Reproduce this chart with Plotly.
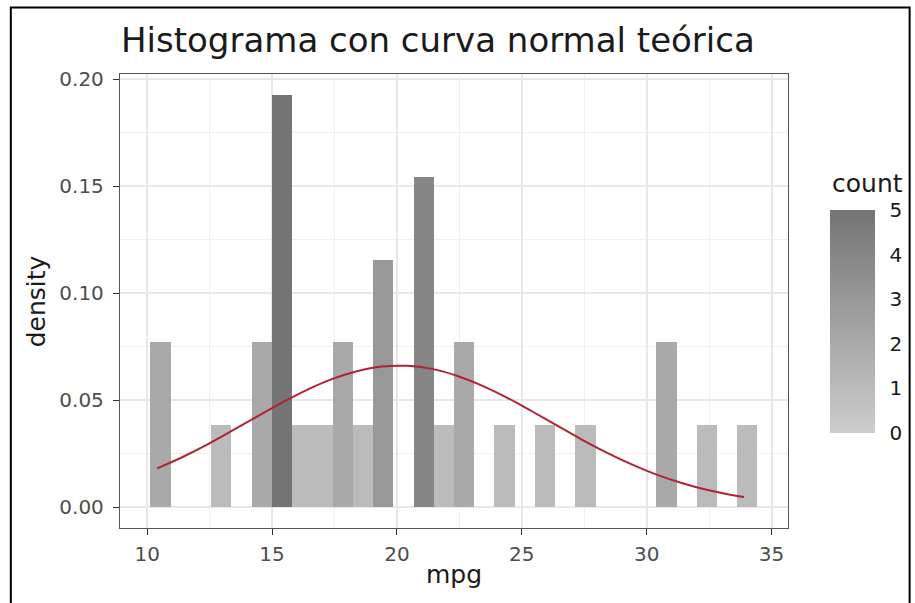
import plotly.graph_objects as go

# mpg histogram (30 bins) with the theoretical normal density on top
bin_centers = [10.53, 11.34, 12.16, 12.97, 13.78, 14.59, 15.40, 16.21, 17.02, 17.83,
               18.64, 19.45, 20.26, 21.07, 21.88, 22.69, 23.50, 24.31, 25.12, 25.93,
               26.74, 27.55, 28.36, 29.17, 29.98, 30.79, 31.60, 32.41, 33.23, 34.03]
bin_width = 0.8103
counts = [2, 0, 0, 1, 0, 2, 5, 1, 1, 2, 1, 3, 0, 4, 1, 2, 0, 1, 0, 1,
          0, 1, 0, 0, 0, 2, 0, 1, 0, 1]
density = [0.0771, 0, 0, 0.0386, 0, 0.0771, 0.1928, 0.0386, 0.0386, 0.0771,
           0.0386, 0.1157, 0, 0.1543, 0.0386, 0.0771, 0, 0.0386, 0, 0.0386,
           0, 0.0386, 0, 0, 0, 0.0771, 0, 0.0386, 0, 0.0386]

# theoretical normal curve (mean ~20.09, sd ~6.03)
curve_x = [10.4, 11.4, 12.4, 13.4, 14.4, 15.4, 16.4, 17.4, 18.4, 19.4, 20.4, 21.4,
           22.4, 23.4, 24.4, 25.4, 26.4, 27.4, 28.4, 29.4, 30.4, 31.4, 32.4, 33.4, 33.9]
curve_y = [0.0182, 0.0234, 0.0293, 0.0358, 0.0424, 0.0489, 0.0549, 0.0599, 0.0636,
           0.0658, 0.0661, 0.0647, 0.0615, 0.0569, 0.0513, 0.0449, 0.0383, 0.0317,
           0.0256, 0.0201, 0.0153, 0.0114, 0.0082, 0.0058, 0.0048]

x_ticks = [10, 15, 20, 25, 30, 35]
y_ticks = [0.00, 0.05, 0.10, 0.15, 0.20]
count_ticks = [0, 1, 2, 3, 4, 5]

FONT = "DejaVu Sans"
W, H = 915, 603
L, R, T, B = 120, 125, 74, 75
PW, PH = W - L - R, H - T - B


def px_x(px):
    return (px - L) / PW


def px_y(py):
    return (H - B - py) / PH


fig = go.Figure()

fig.add_trace(go.Bar(
    x=bin_centers, y=density, width=bin_width,
    marker=dict(
        color=counts, cmin=0, cmax=5,
        colorscale=[[0, "#cdcdcd"], [1, "#747474"]],
        line=dict(width=0),
        showscale=True,
        colorbar=dict(
            x=px_x(832), xanchor="left", y=px_y(321.5), yanchor="middle",
            lenmode="pixels", len=223, thicknessmode="pixels", thickness=45,
            outlinewidth=0, tickvals=count_ticks,
            ticks="outside", ticklen=11, tickcolor="rgba(0,0,0,0)",
            tickfont=dict(family=FONT, size=20, color="#1a1a1a"),
            xpad=0, ypad=0,
        ),
    ),
    hoverinfo="skip", showlegend=False,
))

fig.add_trace(go.Scatter(
    x=curve_x, y=curve_y, mode="lines",
    line=dict(color="#b22234", width=2, shape="spline"),
    hoverinfo="skip", showlegend=False,
))

axis_common = dict(
    showgrid=True, gridcolor="#e8e8e8", gridwidth=1.6,
    zeroline=False, showline=True, mirror=True,
    linecolor="#555555", linewidth=1.3,
    ticks="outside", ticklen=6, tickwidth=1.3, tickcolor="#333333",
    tickfont=dict(family=FONT, size=20, color="#4d4d4d"),
)

fig.update_xaxes(
    range=[8.913, 35.657], tickvals=x_ticks, ticklabelstandoff=2,
    minor=dict(dtick=2.5, tick0=0, showgrid=True, gridcolor="#f0f0f0", gridwidth=0.9, ticks=""),
    **axis_common,
)
fig.update_yaxes(
    range=[-0.00964, 0.20245], tickvals=y_ticks, tickformat=".2f", ticklabelstandoff=5,
    minor=dict(dtick=0.025, tick0=0, showgrid=True, gridcolor="#f0f0f0", gridwidth=0.9, ticks=""),
    **axis_common,
)

annotations = [
    dict(text="Histograma con curva normal teórica", x=px_x(119), y=px_y(40),
         xanchor="left", yanchor="middle",
         font=dict(family=FONT, size=34, color="#1a1a1a")),
    dict(text="mpg", x=0.5, y=px_y(574), xanchor="center", yanchor="middle",
         font=dict(family=FONT, size=25, color="#1a1a1a")),
    dict(text="density", x=px_x(36), y=0.5, xanchor="center", yanchor="middle",
         textangle=-90, font=dict(family=FONT, size=25, color="#1a1a1a")),
    dict(text="count", x=px_x(832), y=px_y(183), xanchor="left", yanchor="middle",
         font=dict(family=FONT, size=25, color="#1a1a1a")),
]
for a in annotations:
    a.update(xref="paper", yref="paper", showarrow=False)

shapes = []
# small white tick marks on both edges of the colour bar
for v in count_ticks:
    yy = px_y(433.5 - v * 44.65)
    for x0, x1 in ((832, 838), (871, 877)):
        shapes.append(dict(type="line", xref="paper", yref="paper",
                           x0=px_x(x0), x1=px_x(x1), y0=yy, y1=yy,
                           line=dict(color="white", width=1.2), layer="above"))
# outer frame
shapes.append(dict(type="rect", xref="paper", yref="paper",
                   x0=px_x(10.5), x1=px_x(912), y0=px_y(7.5), y1=px_y(620),
                   line=dict(color="black", width=2), layer="above"))

fig.update_layout(
    width=W, height=H,
    margin=dict(l=L, r=R, t=T, b=B, pad=0),
    paper_bgcolor="white", plot_bgcolor="white",
    bargap=0, annotations=annotations, shapes=shapes,
    font=dict(family=FONT),
)

fig.write_html("out.html")
